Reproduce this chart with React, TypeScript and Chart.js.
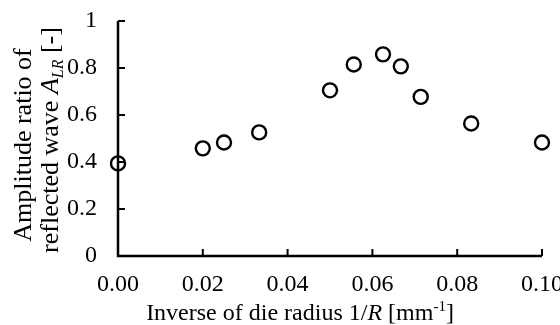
import React, { useEffect, useRef } from "react";
import { Chart, registerables } from "chart.js";

Chart.register(...registerables);

const xValues = [0, 0.02, 0.025, 0.0333, 0.05, 0.0556, 0.0625, 0.0667, 0.0714, 0.0833, 0.1];
const yValues = [0.394, 0.458, 0.483, 0.526, 0.705, 0.815, 0.858, 0.807, 0.677, 0.564, 0.483];
const xTickValues = [0, 0.02, 0.04, 0.06, 0.08, 0.1];
const yTickValues = [0, 0.2, 0.4, 0.6, 0.8, 1];

const FONT = "'Liberation Serif', 'Times New Roman', serif";
const TICK_SIZE = 24;
const XTITLE_SIZE = 24;
const YTITLE_SIZE = 26;

type Part = { text: string; italic?: boolean; sub?: boolean; sup?: boolean };

const xTitle: Part[] = [
  { text: "Inverse of die radius 1/" },
  { text: "R", italic: true },
  { text: " [mm" },
  { text: "-1", sup: true },
  { text: "]" },
];
const yTitleLine1: Part[] = [{ text: "Amplitude ratio of" }];
const yTitleLine2: Part[] = [
  { text: "reflected wave " },
  { text: "A", italic: true },
  { text: "LR", italic: true, sub: true },
  { text: " [-]" },
];

function fontFor(p: Part, size: number) {
  const s = p.sub || p.sup ? Math.round(size * 0.62) : size;
  return `${p.italic ? "italic " : ""}${s}px ${FONT}`;
}

function drawRich(ctx: CanvasRenderingContext2D, parts: Part[], cx: number, baseline: number, size: number) {
  let total = 0;
  const widths = parts.map((p) => {
    ctx.font = fontFor(p, size);
    const w = ctx.measureText(p.text).width;
    total += w;
    return w;
  });
  let x = cx - total / 2;
  ctx.textAlign = "left";
  ctx.textBaseline = "alphabetic";
  parts.forEach((p, i) => {
    ctx.font = fontFor(p, size);
    let y = baseline;
    if (p.sub) y += size * 0.18;
    if (p.sup) y -= size * 0.38;
    ctx.fillText(p.text, x, y);
    x += widths[i];
  });
}

const decorPlugin = {
  id: "decor",
  afterDatasetsDraw(chart: any) {
    const ctx: CanvasRenderingContext2D = chart.ctx;
    const xs = chart.scales.x;
    const ys = chart.scales.y;
    const area = chart.chartArea;
    ctx.save();
    ctx.strokeStyle = "#000";
    ctx.lineWidth = 2.5;
    ctx.beginPath();
    ctx.moveTo(area.left, area.top);
    ctx.lineTo(area.left, area.bottom);
    ctx.lineTo(area.right, area.bottom);
    ctx.stroke();
    ctx.lineWidth = 2;
    ctx.beginPath();
    xTickValues.forEach((v) => {
      const px = xs.getPixelForValue(v);
      ctx.moveTo(px, area.bottom);
      ctx.lineTo(px, area.bottom - 7);
    });
    yTickValues.forEach((v) => {
      const py = ys.getPixelForValue(v);
      ctx.moveTo(area.left, py);
      ctx.lineTo(area.left + 7, py);
    });
    ctx.stroke();
    ctx.restore();
  },
  afterDraw(chart: any) {
    const ctx: CanvasRenderingContext2D = chart.ctx;
    ctx.save();
    ctx.fillStyle = "#000";
    drawRich(ctx, xTitle, 300, 320, XTITLE_SIZE);
    ctx.save();
    ctx.translate(31, 145);
    ctx.rotate(-Math.PI / 2);
    drawRich(ctx, yTitleLine1, 0, 0, YTITLE_SIZE);
    ctx.restore();
    ctx.save();
    ctx.translate(58, 140);
    ctx.rotate(-Math.PI / 2);
    drawRich(ctx, yTitleLine2, 0, 0, YTITLE_SIZE);
    ctx.restore();
    ctx.restore();
  },
};

export default function App() {
  const ref = useRef<HTMLCanvasElement | null>(null);
  useEffect(() => {
    document.body.style.margin = "0";
    const canvas = ref.current;
    if (!canvas) return;
    const chart = new Chart(canvas, {
      type: "scatter",
      data: {
        datasets: [
          {
            data: xValues.map((x, i) => ({ x, y: yValues[i] })),
            pointRadius: 7,
            pointHoverRadius: 7,
            pointBackgroundColor: "#fff",
            pointBorderColor: "#000",
            pointBorderWidth: 2.4,
            clip: false as any,
          },
        ],
      },
      options: {
        responsive: false,
        animation: false,
        events: [],
        layout: { padding: { top: 21, right: 18, left: 0, bottom: 0 } },
        plugins: { legend: { display: false }, tooltip: { enabled: false } },
        scales: {
          x: {
            type: "linear",
            min: 0,
            max: 0.1,
            afterFit: (s: any) => {
              s.height = 69;
              s.paddingRight = 0;
              s.paddingLeft = 0;
            },
            afterBuildTicks: (s: any) => {
              s.ticks = xTickValues.map((v) => ({ value: v }));
            },
            grid: { display: false, drawTicks: false },
            border: { display: false },
            ticks: {
              padding: 14,
              color: "#000",
              font: { family: FONT, size: TICK_SIZE },
              maxRotation: 0,
              autoSkip: false,
              callback: (v: any) => Number(v).toFixed(2),
            },
          },
          y: {
            type: "linear",
            min: 0,
            max: 1,
            afterFit: (s: any) => {
              s.width = 118;
              s.paddingTop = 0;
              s.paddingBottom = 0;
            },
            afterBuildTicks: (s: any) => {
              s.ticks = yTickValues.map((v) => ({ value: v }));
            },
            grid: { display: false, drawTicks: false },
            border: { display: false },
            ticks: {
              padding: 21,
              color: "#000",
              font: { family: FONT, size: TICK_SIZE },
              autoSkip: false,
              callback: (v: any) => String(Math.round(Number(v) * 10) / 10),
            },
          },
        },
      },
      plugins: [decorPlugin],
    });
    return () => chart.destroy();
  }, []);
  return <canvas ref={ref} width={560} height={325} style={{ display: "block" }} />;
}
